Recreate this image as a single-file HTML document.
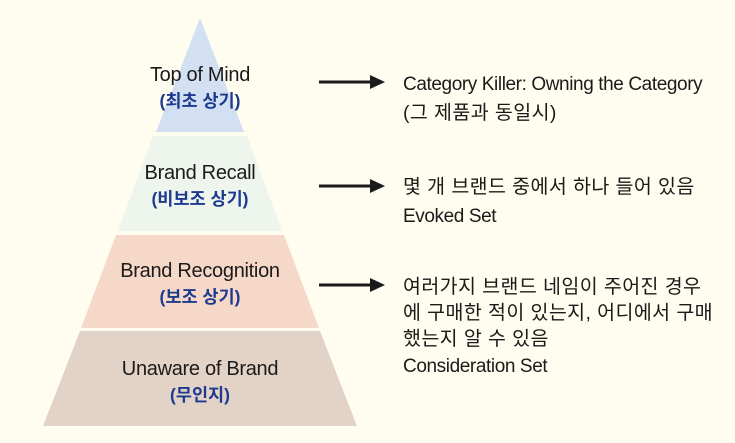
<!DOCTYPE html>
<html><head><meta charset="utf-8"><style>
html,body{margin:0;padding:0;background:#fffdf0;}
svg{display:block}
text{font-family:"Liberation Sans","Noto Sans CJK KR",sans-serif;}
.k{fill:#1d3a8f;font-size:17.5px;font-weight:bold;}
.e{fill:#1a1a1a;font-size:20px;letter-spacing:-0.3px;}
.r{fill:#1a1a1a;font-size:19px;letter-spacing:-0.4px;}
.h{fill:#1a1a1a;font-size:19.5px;letter-spacing:0.4px;}
</style></head><body>
<svg width="735" height="443" viewBox="0 0 735 443">
<rect width="735" height="443" fill="#fffdf0"/>
<polygon points="200,18 244,132 156,132" fill="#d3e0f2"/>
<polygon points="153,136 247,136 282,231 118,231" fill="#eef5ec"/>
<polygon points="116,235 284,235 319,328 81,328" fill="#f5d8c8"/>
<polygon points="80,331 320,331 357,426 43,426" fill="#e3d3c7"/>
<g text-anchor="middle">
<text class="e" x="200" y="81">Top of Mind</text>
<text class="k" x="200" y="107">(최초 상기)</text>
<text class="e" x="200" y="179">Brand Recall</text>
<text class="k" x="200" y="205">(비보조 상기)</text>
<text class="e" x="200" y="277">Brand Recognition</text>
<text class="k" x="200" y="303">(보조 상기)</text>
<text class="e" x="200" y="375">Unaware of Brand</text>
<text class="k" x="200" y="401">(무인지)</text>
</g>
<g fill="#1a1a1a" stroke="#1a1a1a" stroke-width="3">
<line x1="319" y1="82" x2="372" y2="82"/><polygon points="370,75 385,82 370,89" stroke="none"/>
<line x1="319" y1="186" x2="372" y2="186"/><polygon points="370,179 385,186 370,193" stroke="none"/>
<line x1="319" y1="285" x2="372" y2="285"/><polygon points="370,278 385,285 370,292" stroke="none"/>
</g>
<text class="r" x="403" y="90">Category Killer: Owning the Category</text>
<text class="h" x="403" y="119">(그 제품과 동일시)</text>
<text class="h" x="403" y="193">몇 개 브랜드 중에서 하나 들어 있음</text>
<text class="r" x="403" y="222">Evoked Set</text>
<text class="h" x="403" y="293">여러가지 브랜드 네임이 주어진 경우</text>
<text class="h" x="403" y="319">에 구매한 적이 있는지, 어디에서 구매</text>
<text class="h" x="403" y="345">했는지 알 수 있음</text>
<text class="r" x="403" y="372">Consideration Set</text>
</svg>
</body></html>
